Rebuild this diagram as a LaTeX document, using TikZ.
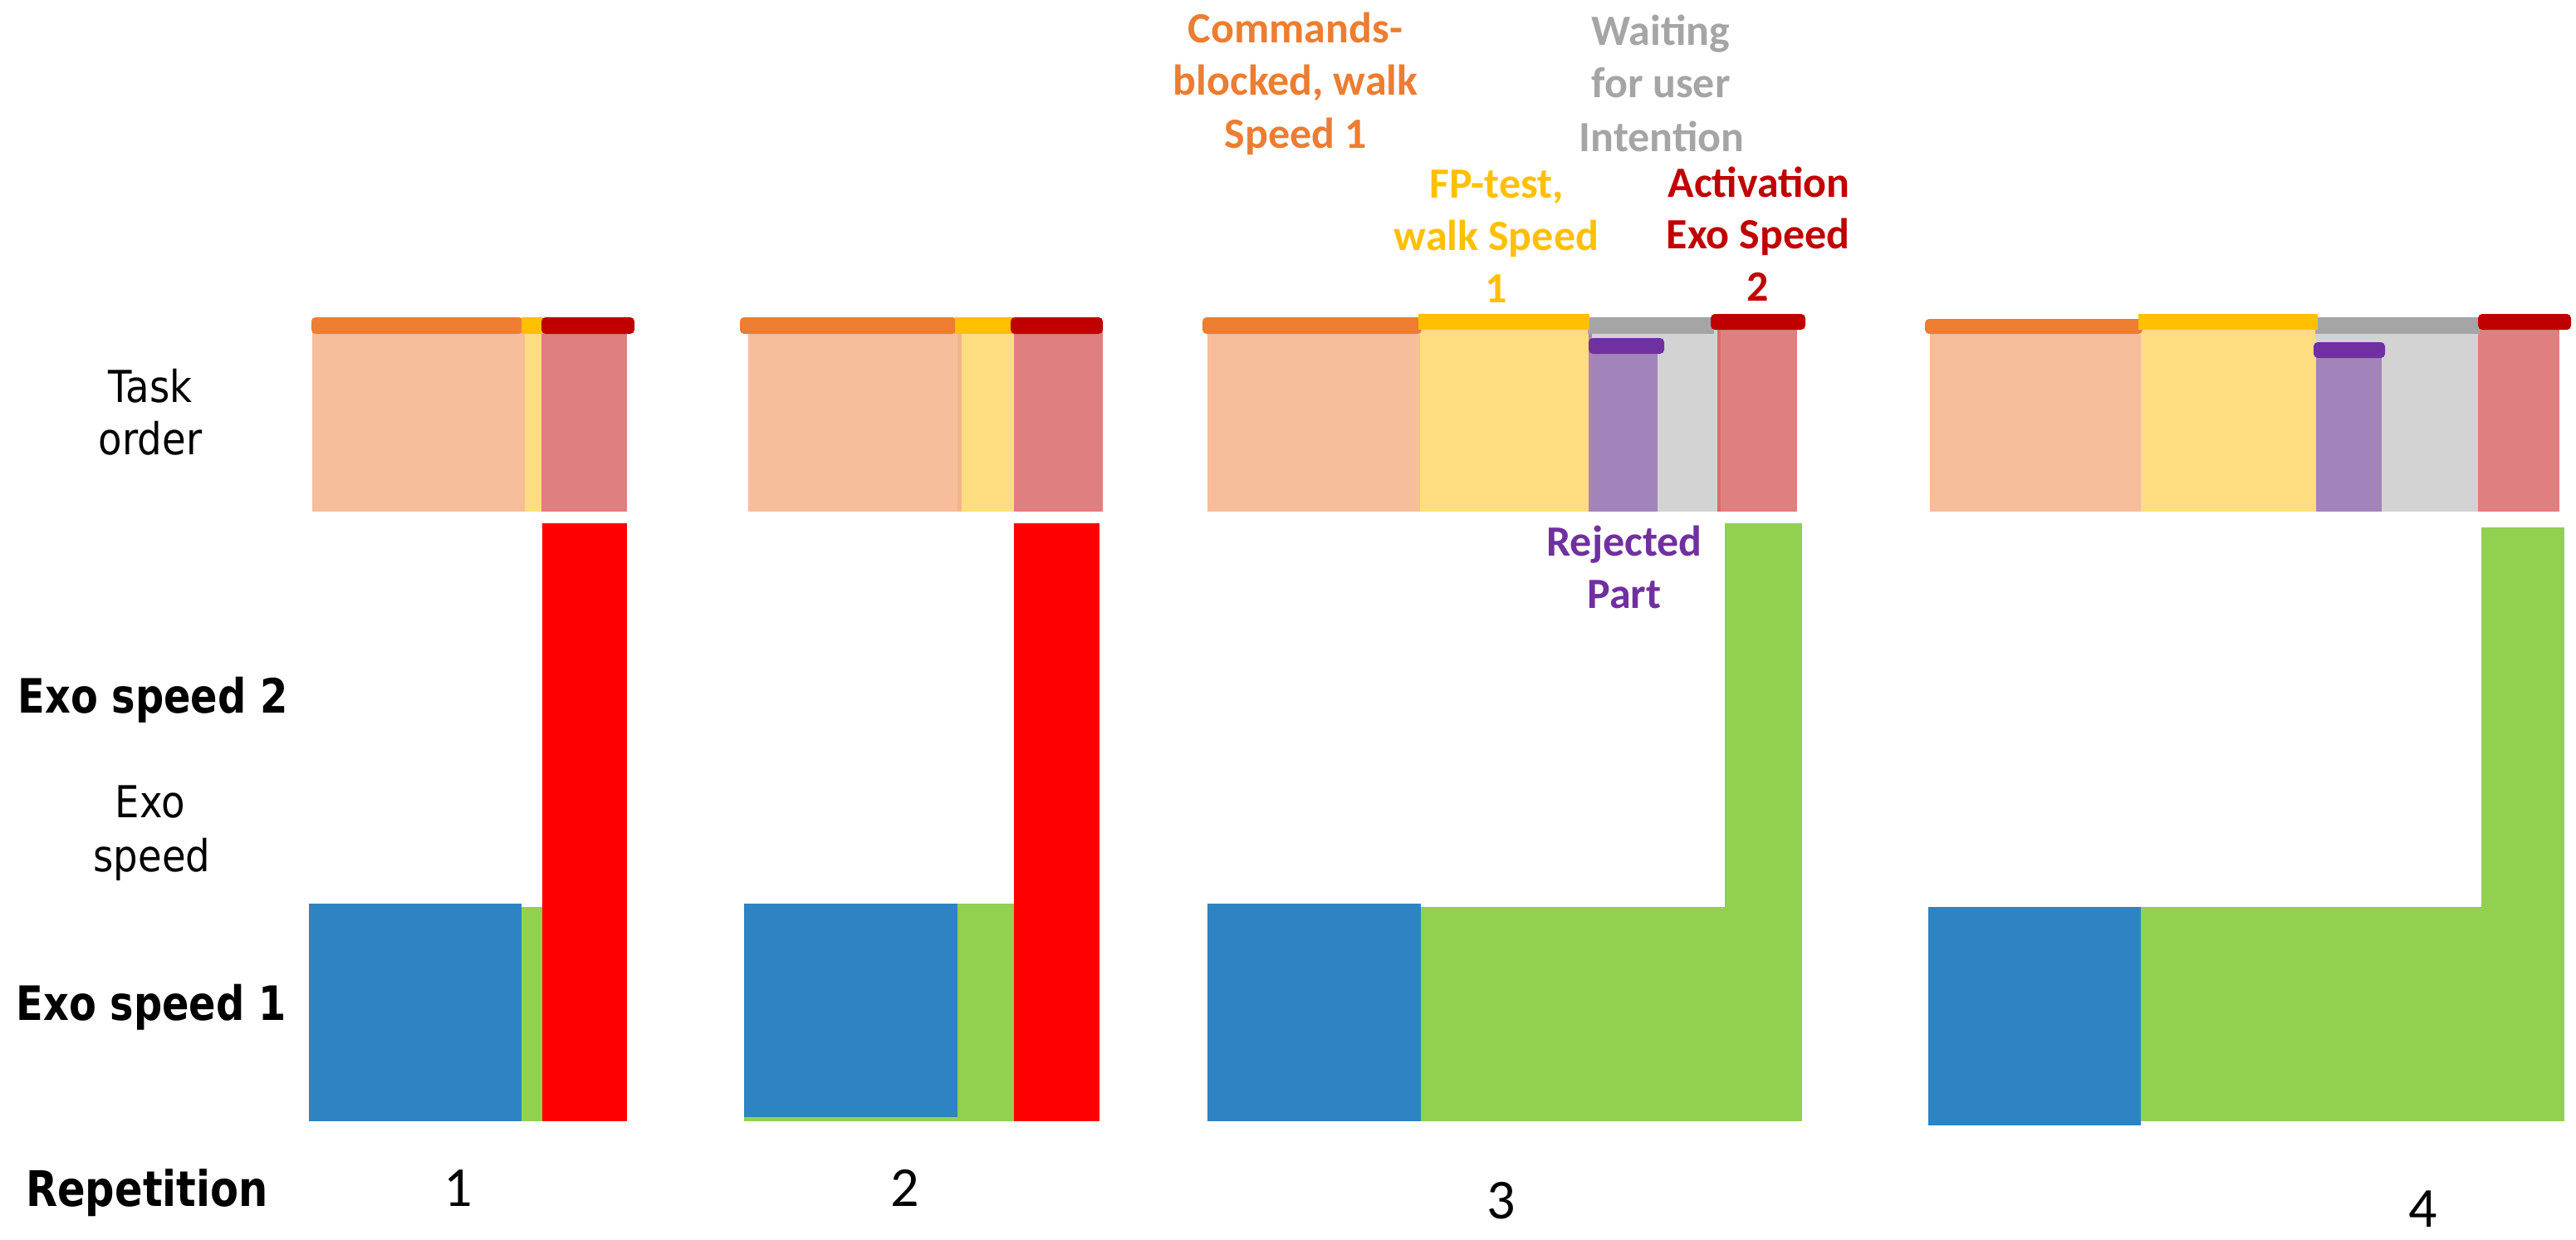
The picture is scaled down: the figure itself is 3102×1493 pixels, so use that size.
\documentclass[tikz,border=0pt]{standalone}
\usepackage{fontspec}
\setmainfont{Carlito}
\newfontfamily\calfont{Carlito}
\newfontfamily\tahfont[FakeStretch=0.88]{DejaVu Sans}
\newfontfamily\tahbfont[FakeStretch=0.84]{DejaVu Sans}
\definecolor{pOr}{HTML}{F6BE9B}
\definecolor{pYe}{HTML}{FEDD80}
\definecolor{pPk}{HTML}{E07F7F}
\definecolor{pPu}{HTML}{A284BA}
\definecolor{pGr}{HTML}{D3D3D3}
\definecolor{lOr}{HTML}{ED7D31}
\definecolor{lYe}{HTML}{FFC000}
\definecolor{lGr}{HTML}{A5A5A5}
\definecolor{lRd}{HTML}{C00000}
\definecolor{lPu}{HTML}{7030A0}
\definecolor{cBl}{HTML}{2E83C2}
\definecolor{cGn}{HTML}{92D050}
\definecolor{cRd}{HTML}{FF0000}
\begin{document}
\begin{tikzpicture}[x=1pt,y=-1pt,
  seg/.style={rounded corners=5pt},
  toplbl/.style={inner sep=0pt,anchor=base,font=\calfont\bfseries\fontsize{52}{63}\selectfont},
  leftlbl/.style={inner sep=0pt,anchor=base,font=\tahfont\fontsize{53}{63}\selectfont},
  biglbl/.style={inner sep=0pt,anchor=base,font=\tahbfont\bfseries\fontsize{57}{70}\selectfont},
  replbl/.style={inner sep=0pt,anchor=base,font=\tahbfont\bfseries\fontsize{59}{72}\selectfont},
  numlbl/.style={inner sep=0pt,anchor=base,font=\calfont\fontsize{68}{80}\selectfont}]
\useasboundingbox[fill=white] (0,0) rectangle (3102,1493);

% ---------------- Task order bars ----------------
% Rep 1
\fill[pOr] (376,392) rectangle (632,616);
\fill[pYe] (632,392) rectangle (652,616);
\fill[pPk] (652,392) rectangle (755,616);
\fill[lOr,seg] (375,382) rectangle (630,402);
\fill[lYe] (628,382) rectangle (654,402);
\fill[lRd,seg] (652,382) rectangle (764,402);
% Rep 2
\fill[pOr] (901,392) rectangle (1153,616);
\fill[pOr!85!lOr] (1153,392) rectangle (1158,616);
\fill[pYe] (1158,392) rectangle (1221,616);
\fill[pPk] (1221,392) rectangle (1328,616);
\fill[lOr,seg] (891,382) rectangle (1152,402);
\fill[lYe] (1150,382) rectangle (1221,402);
\fill[lRd,seg] (1217,382) rectangle (1328,402);
% Rep 3
\fill[pOr] (1454,392) rectangle (1710,616);
\fill[pYe] (1710,392) rectangle (1913,616);
\fill[pPu!80!pPk] (1913,392) rectangle (1917,616);
\fill[pPu] (1917,417) rectangle (1996,616);
\fill[pGr] (1996,392) rectangle (2068,616);
\fill[pGr] (1917,392) rectangle (1996,417);
\fill[pPk!85!lRd] (2068,392) rectangle (2072,616);
\fill[pPk] (2072,392) rectangle (2164,616);
\fill[lGr] (1912,382) rectangle (2064,402);
\fill[lOr,seg] (1448,382) rectangle (1712,402);
\fill[lYe] (1708,378) rectangle (1914,397);
\fill[lRd,seg] (2060,378) rectangle (2174,397);
\fill[lPu,seg] (1913,407) rectangle (2004,426);
% Rep 4
\fill[pOr] (2324,392) rectangle (2578,616);
\fill[pYe] (2578,392) rectangle (2789,616);
\fill[pPu] (2789,421) rectangle (2868,616);
\fill[pGr] (2789,392) rectangle (2868,421);
\fill[pGr] (2868,392) rectangle (2984,616);
\fill[pPk] (2984,392) rectangle (3082,616);
\fill[lGr] (2788,382) rectangle (2986,402);
\fill[lOr,seg] (2318,384) rectangle (2580,402);
\fill[lYe] (2575,378) rectangle (2791,397);
\fill[lRd,seg] (2984,378) rectangle (3096,397);
\fill[lPu,seg] (2786,412) rectangle (2872,431);

% ---------------- Exo speed bars ----------------
% Rep 1
\fill[cBl] (372,1088) rectangle (628,1350);
\fill[cGn] (628,1092) rectangle (653,1350);
\fill[cRd] (653,630) rectangle (755,1350);
% Rep 2
\fill[cGn] (896,1088) rectangle (1221,1350);
\fill[cBl] (896,1088) rectangle (1153,1345);
\fill[cRd] (1221,630) rectangle (1324,1350);
% Rep 3
\fill[cBl] (1454,1088) rectangle (1711,1350);
\fill[cGn] (1711,1092) rectangle (2170,1350);
\fill[cGn] (2077,630) rectangle (2170,1350);
% Rep 4
\fill[cBl] (2322,1092) rectangle (2578,1355);
\fill[cGn] (2578,1092) rectangle (3088,1350);
\fill[cGn] (2988,635) rectangle (3088,1350);

% ---------------- Left labels ----------------
\node[leftlbl] (task1) at (181,484) {Task};
\node[leftlbl] (task2) at (181,547) {order};
\node[biglbl] (exo2) at (184,858) {Exo speed 2};
\node[leftlbl] (exoa) at (181,984) {Exo};
\node[leftlbl] (exob) at (183,1049) {speed};
\node[biglbl] (exo1) at (182,1228) {Exo speed 1};
\node[replbl] (rep) at (177,1452) {Repetition};

% ---------------- Repetition numbers ----------------
\node[numlbl] (n1) at (552,1452) {1};
\node[numlbl] (n2) at (1090,1452) {2};
\node[numlbl] (n3) at (1808,1467) {3};
\node[numlbl] (n4) at (2918,1477) {4};

% ---------------- Top labels ----------------
\node[toplbl,text=lOr] (cmd1) at (1560,52) {Commands-};
\node[toplbl,text=lOr] (cmd2) at (1560,115) {blocked, walk};
\node[toplbl,text=lOr] (cmd3) at (1560,178) {Speed 1};
\node[toplbl,text=lGr] (wait1) at (2000,55) {Waiting};
\node[toplbl,text=lGr] (wait2) at (2000,118) {for user};
\node[toplbl,text=lGr] (wait3) at (2001,182) {Intention};
\node[toplbl,text=lYe] (fp1) at (1802,238) {FP-test,};
\node[toplbl,text=lYe] (fp2) at (1802,301) {walk Speed};
\node[toplbl,text=lYe] (fp3) at (1802,364) {1};
\node[toplbl,text=lRd] (act1) at (2118,237) {Activation};
\node[toplbl,text=lRd] (act2) at (2117,299) {Exo Speed};
\node[toplbl,text=lRd] (act3) at (2117,362) {2};
\node[toplbl,text=lPu] (rej1) at (1956,669) {Rejected};
\node[toplbl,text=lPu] (rej2) at (1956,732) {Part};
\end{tikzpicture}
\end{document}
